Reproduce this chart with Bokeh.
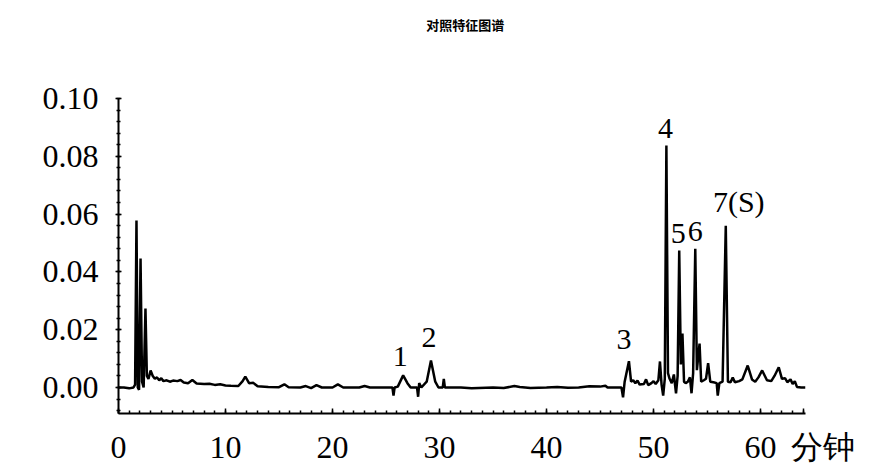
import numpy as np
from bokeh.plotting import figure
from bokeh.models import ColumnDataSource, FixedTicker, PrintfTickFormatter, Range1d
from bokeh.core.properties import value
from bokeh.embed import file_html
from bokeh.resources import INLINE

# ---- data ----
time_min = [
    0.0, 0.5, 1.0, 1.4, 1.55, 1.68, 1.8, 1.92, 2.06, 2.2, 2.35, 2.52, 2.65, 2.8,
    3.0, 3.2, 3.4, 3.6, 3.8, 4.0, 4.2, 4.5, 4.8, 5.1, 5.5, 5.8, 6.1, 6.5, 6.9,
    7.3, 8.0, 8.5, 9.0, 9.5, 10.0, 10.5, 11.2, 11.6, 11.85, 12.2, 12.6, 13.0,
    14.0, 15.0, 15.5, 15.9, 17.0, 17.5, 18.0, 18.5, 19.0, 20.0, 20.5, 21.0,
    22.5, 23.0, 23.5, 25.6, 25.7, 25.8, 26.1, 26.6, 27.0, 27.3, 27.9, 28.0,
    28.1, 28.3, 28.8, 29.2, 29.6, 29.9, 30.3, 30.4, 30.5, 32.0, 33.0, 35.0,
    36.0, 37.0, 37.5, 38.5, 40.0, 41.0, 42.0, 43.0, 44.0, 45.0, 45.5, 45.7,
    47.0, 47.15, 47.3, 47.7, 47.9, 48.1, 48.3, 48.5, 48.7, 49.1, 49.3, 49.5,
    49.8, 50.0, 50.2, 50.45, 50.6, 50.75, 50.9, 51.05, 51.2, 51.35, 51.5, 51.7,
    51.9, 52.1, 52.25, 52.4, 52.55, 52.7, 52.85, 53.0, 53.2, 53.4, 53.55, 53.7,
    53.9, 54.05, 54.3, 54.45, 54.7, 54.9, 55.1, 55.3, 55.6, 55.9, 56.0, 56.15,
    56.45, 56.75, 56.95, 57.2, 57.4, 57.6, 58.0, 58.3, 58.8, 59.2, 59.5, 59.8,
    60.15, 60.6, 61.0, 61.3, 61.7, 62.0, 62.3, 62.5, 62.8, 63.0, 63.2, 63.4,
    63.8, 64.2,
]
absorbance = [
    0.0, 0.0, -0.0003, 0.0, 0.001, 0.0578, 0.0, -0.0008, 0.0446, 0.002, 0.0, 0.0273, 0.004, 0.003,
    0.0059, 0.004, 0.003, 0.0035, 0.0025, 0.0032, 0.0022, 0.0025, 0.002, 0.0024, 0.0022, 0.0026, 0.0017, 0.0015, 0.0026,
    0.0014, 0.0012, 0.0013, 0.0009, 0.0011, 0.0007, 0.0006, 0.0005, 0.0022, 0.0038, 0.0015, 0.0016, 0.0004,
    0.0002, 0.0001, 0.0011, 0.0001, 0.0, 0.0005, -0.0002, 0.0008, 0.0, 0.0, 0.0011, 0.0,
    0.0, 0.0005, 0.0, 0.0, -0.0028, 0.0, 0.0003, 0.0042, 0.0015, 0.0, 0.0, -0.0032,
    0.0015, 0.0, 0.002, 0.0093, 0.002, 0.0, 0.0, 0.003, 0.0, 0.0, -0.0003, 0.0,
    -0.0002, 0.0005, 0.0002, -0.0002, 0.0, 0.0002, -0.0001, 0.0, 0.0004, 0.0003, 0.0006, 0.0,
    0.0, -0.0034, 0.002, 0.0091, 0.002, 0.0025, 0.0015, 0.0024, 0.001, 0.0012, 0.0028, 0.0008,
    0.0015, 0.0022, 0.0012, 0.0025, 0.009, 0.001, -0.0028, 0.003, 0.0837, 0.005, 0.003, 0.0015,
    0.0045, -0.002, 0.004, 0.0474, 0.008, 0.0187, 0.002, 0.0015, 0.002, 0.0035, -0.002, 0.005,
    0.048, 0.006, 0.0152, 0.002, 0.0025, 0.003, 0.0084, 0.002, 0.0018, 0.0015, -0.0028, 0.0015,
    0.002, 0.056, 0.002, 0.0018, 0.0035, 0.0018, 0.0022, 0.0028, 0.0076, 0.0028, 0.002, 0.0035,
    0.0059, 0.0025, 0.0022, 0.004, 0.0070, 0.003, 0.0032, 0.0018, 0.0028, 0.0012, 0.0022, 0.0002,
    0.0, 0.0,
]

peak_names = ["1", "2", "3", "4", "5", "6", "7(S)"]
peak_times = [26.6, 29.2, 47.7, 51.2, 52.4, 53.9, 56.75]
peak_heights = [0.0042, 0.0093, 0.0091, 0.0837, 0.0474, 0.048, 0.056]

y_major = [0.00, 0.02, 0.04, 0.06, 0.08, 0.10]
x_major = [0, 10, 20, 30, 40, 50, 60]

title_text = "对照特征图谱"
x_unit = "分钟"

# ---- figure ----
Y_MIN, Y_MAX = -0.009, 0.1
X_MIN, X_MAX = 0, 64.2
px_per_unit_y = 2890.0            # screen pixels per absorbance unit
top_room = 98                     # pixels above 0.10 kept for the title
y_end = Y_MAX + top_room / px_per_unit_y

p = figure(width=887, height=467, output_backend="svg", toolbar_location=None,
           x_range=Range1d(X_MIN, X_MAX), y_range=Range1d(Y_MIN, y_end),
           min_border_left=118, min_border_right=82, min_border_top=0,
           min_border_bottom=54)
p.outline_line_color = None
p.xgrid.visible = False
p.ygrid.visible = False
p.background_fill_color = "white"

p.line(time_min, absorbance, line_color="black", line_width=2.5)

lbl_src = ColumnDataSource(dict(x=peak_times, y=peak_heights, text=peak_names,
                                xo=[-3, -2, -5, -1, -1, 0, 13],
                                yo=[-9, -14, -12, -8, -8, -8, -8]))
p.text(x="x", y="y", text="text", x_offset="xo", y_offset="yo", source=lbl_src,
       text_align="center", text_baseline="bottom",
       text_font=value("Liberation Serif"), text_font_size="30px", text_color="black")

# title, drawn in the space above the y axis
p.text(x=[(X_MIN + X_MAX) / 2 + 0.3], y=[Y_MAX + 74 / px_per_unit_y], text=[title_text],
       text_align="center", text_baseline="middle",
       text_font=value("Noto Sans CJK SC"), text_font_style="bold",
       text_font_size="13px", text_color="black")

serif = "Liberation Serif"
# x axis (unit label carried by an extra tick at the end of the axis)
unit_tick = 64
nbsp = "\u00a0"
xa = p.xaxis[0]
xa.ticker = FixedTicker(ticks=x_major + [unit_tick], minor_ticks=list(np.arange(0, 65, 1)))
xa.major_label_overrides = {unit_tick: nbsp * 5 + x_unit}
xa.axis_line_width = 2
xa.axis_line_color = "black"
xa.major_tick_in = 5
xa.major_tick_out = 0
xa.minor_tick_in = 3
xa.minor_tick_out = 0
xa.major_tick_line_width = 1.5
xa.minor_tick_line_width = 1.5
xa.major_label_text_font = serif
xa.major_label_text_font_size = "32px"
xa.major_label_text_color = "black"
xa.major_label_standoff = 15

# y axis
ya = p.yaxis[0]
ya.bounds = (Y_MIN, Y_MAX)
ya.ticker = FixedTicker(ticks=y_major, minor_ticks=list(np.arange(-0.008, 0.1001, 0.004)))
ya.formatter = PrintfTickFormatter(format="%.2f")
ya.axis_line_width = 2
ya.axis_line_color = "black"
ya.major_tick_in = 3
ya.major_tick_out = 3
ya.minor_tick_in = 2
ya.minor_tick_out = 2
ya.major_tick_line_width = 1.5
ya.minor_tick_line_width = 1.5
ya.major_label_text_font = serif
ya.major_label_text_font_size = "32px"
ya.major_label_text_color = "black"
ya.major_label_standoff = 17

open("out.html", "w").write(file_html(p, INLINE))
